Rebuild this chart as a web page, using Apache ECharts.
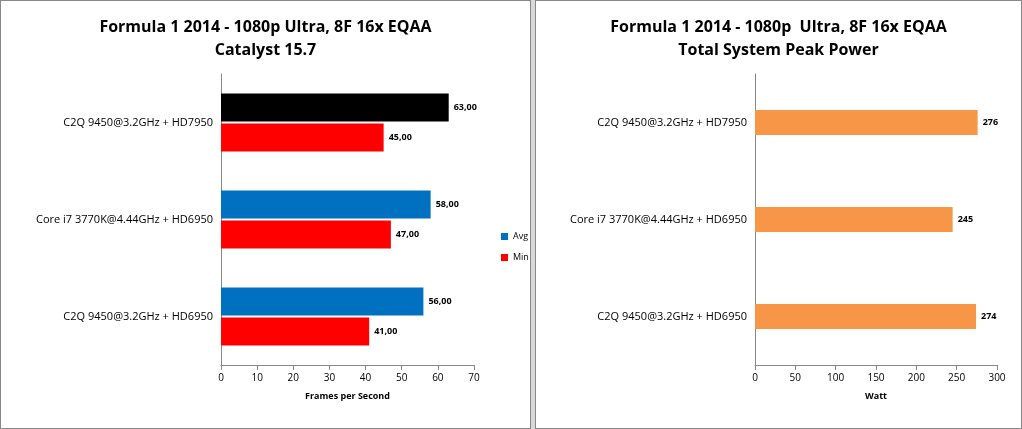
<!DOCTYPE html>
<html>
<head>
<meta charset="utf-8">
<script src="https://cdn.jsdelivr.net/npm/echarts@6/dist/echarts.min.js"></script>
<style>
body { margin: 0; background: #d9d9d9; width: 1022px; height: 429px; position: relative; overflow: hidden; }
#left, #right { position: absolute; top: 0; height: 427px; background: #fff; border: 1px solid #888; }
#left { left: 0; width: 529px; }
#right { left: 535px; width: 485px; }
</style>
</head>
<body>
<div id="left"></div>
<div id="right"></div>
<script>
// categories listed top to bottom
var categories = ['C2Q 9450@3.2GHz + HD7950', 'Core i7 3770K@4.44GHz + HD6950', 'C2Q 9450@3.2GHz + HD6950'];
var avgFps = [63, 58, 56];
var minFps = [45, 47, 41];
var peakWatt = [276, 245, 274];

var font = '"Open Sans", "Liberation Sans", sans-serif';

function comma(p) {
    return p.value.toFixed(2).replace('.', ',');
}

var chartLeft = echarts.init(document.getElementById('left'));
var optionLeft = {
    animation: false,
    textStyle: { fontFamily: font },
    title: {
        text: 'Formula 1 2014 - 1080p Ultra, 8F 16x EQAA\nCatalyst 15.7',
        left: 'center',
        top: 10,
        textStyle: { fontSize: 16, fontWeight: 'bold', lineHeight: 23, color: '#000', fontFamily: font }
    },
    legend: {
        orient: 'vertical',
        left: 495,
        top: 226,
        itemWidth: 7,
        itemHeight: 7,
        itemGap: 12,
        icon: 'rect',
        textStyle: { fontSize: 9, color: '#000' },
        data: ['Avg', 'Min']
    },
    grid: { left: 220, right: 56, top: 73, bottom: 63 },
    xAxis: {
        type: 'value',
        min: 0, max: 70, interval: 10,
        name: 'Frames per Second',
        nameLocation: 'middle',
        nameGap: 27,
        nameTextStyle: { fontSize: 9, fontWeight: 'bold', color: '#000' },
        axisLine: { show: true, lineStyle: { color: '#888' } },
        axisTick: { show: true, lineStyle: { color: '#888' } },
        axisLabel: { fontSize: 10, color: '#000' },
        splitLine: { show: false }
    },
    yAxis: {
        type: 'category',
        inverse: true,
        data: categories,
        axisLine: { lineStyle: { color: '#888' } },
        axisTick: { show: false },
        axisLabel: { fontSize: 11, color: '#000', margin: 8 }
    },
    series: [{
        name: 'Avg',
        type: 'bar',
        data: avgFps.map(function (v, i) {
            return i === 0 ? { value: v, itemStyle: { color: '#000' } } : v;
        }),
        itemStyle: { color: '#0070c0' },
        barGap: '8%',
        barCategoryGap: '40%',
        label: { show: true, position: 'right', fontSize: 9, fontWeight: 'bold', color: '#000', formatter: comma }
    }, {
        name: 'Min',
        type: 'bar',
        data: minFps,
        itemStyle: { color: '#ff0000' },
        label: { show: true, position: 'right', fontSize: 9, fontWeight: 'bold', color: '#000', formatter: comma }
    }]
};
chartLeft.setOption(optionLeft);

var chartRight = echarts.init(document.getElementById('right'));
var optionRight = {
    animation: false,
    textStyle: { fontFamily: font },
    title: {
        text: 'Formula 1 2014 - 1080p  Ultra, 8F 16x EQAA\nTotal System Peak Power',
        left: 'center',
        top: 10,
        textStyle: { fontSize: 16, fontWeight: 'bold', lineHeight: 23, color: '#000', fontFamily: font }
    },
    grid: { left: 219, right: 24, top: 73, bottom: 63 },
    xAxis: {
        type: 'value',
        min: 0, max: 300, interval: 50,
        name: 'Watt',
        nameLocation: 'middle',
        nameGap: 27,
        nameTextStyle: { fontSize: 9, fontWeight: 'bold', color: '#000' },
        axisLine: { show: true, lineStyle: { color: '#888' } },
        axisTick: { show: true, lineStyle: { color: '#888' } },
        axisLabel: { fontSize: 10, color: '#000' },
        splitLine: { show: false }
    },
    yAxis: {
        type: 'category',
        inverse: true,
        data: categories,
        axisLine: { lineStyle: { color: '#888' } },
        axisTick: { show: false },
        axisLabel: { fontSize: 11, color: '#000', margin: 8 }
    },
    series: [{
        name: 'Watt',
        type: 'bar',
        data: peakWatt,
        itemStyle: { color: '#f79646' },
        barCategoryGap: '74%',
        label: { show: true, position: 'right', fontSize: 9, fontWeight: 'bold', color: '#000' }
    }]
};
chartRight.setOption(optionRight);
</script>
</body>
</html>
